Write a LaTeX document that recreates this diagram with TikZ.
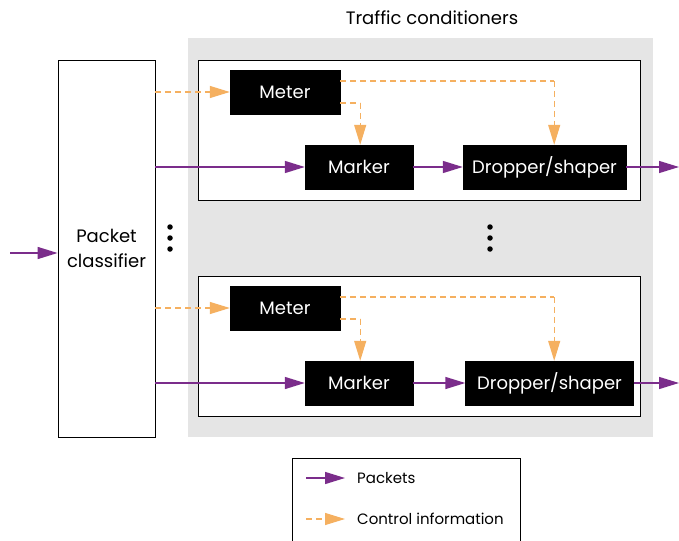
\documentclass[tikz,border=0pt]{standalone}
\usepackage{fontspec}
\setmainfont{Poppins}
\usetikzlibrary{arrows.meta}
\definecolor{pkt}{HTML}{7B2D8B}
\definecolor{ctl}{HTML}{F5B060}
\definecolor{bg}{HTML}{E5E5E5}
\tikzset{
  blk/.style={fill=black,draw=black,text=white,inner sep=0pt,font=\fontsize{18}{20}\selectfont},
  pktarrow/.style={draw=pkt,line width=1.4pt,-{Triangle[length=20pt,width=12pt]}},
  ctlarrow/.style={draw=ctl,line width=1.2pt,dash pattern=on 6pt off 4pt,-{Triangle[length=20pt,width=12pt]}},
  ctlline/.style={draw=ctl,line width=1.2pt,dash pattern=on 6pt off 4pt},
  lbl/.style={font=\fontsize{18}{20}\selectfont,inner sep=0pt},
  leglbl/.style={font=\fontsize{15}{18}\selectfont,inner sep=0pt},
  dot/.style={circle,fill=black,inner sep=0pt,minimum size=5.5pt}
}
\begin{document}
\begin{tikzpicture}[x=1pt,y=-1pt]
\useasboundingbox (0,0) rectangle (679,540);
% shaded area holding the traffic conditioners
\fill[bg] (188,38) rectangle (653,437);
\node[lbl] (title) at (432,18) {Traffic conditioners};
% classifier
\node[draw,line width=0.8pt,minimum width=97pt,minimum height=377pt,inner sep=0pt,align=center,font=\fontsize{18}{25}\selectfont] (cls) at (106.5,248.5) {Packet\\classifier};
\coordinate (in) at (10,253);
\draw[pktarrow] (in) -- (in -| cls.west);
% two conditioner rows
\foreach \r/\oy in {a/0, b/216}{
  \begin{scope}[yshift=-\oy pt]
    \node[draw,fill=white,line width=0.8pt,minimum width=442pt,minimum height=140pt,inner sep=0pt] (frame\r) at (419,130) {};
    \node[blk,minimum width=110pt,minimum height=44pt] (meter\r) at (285,92) {Meter};
    \node[blk,minimum width=108pt,minimum height=44pt] (marker\r) at (359,167) {Marker};
  \end{scope}
}
\node[blk,minimum width=163pt,minimum height=44pt] (dropa) at (544.5,167) {Dropper/shaper};
\node[blk,minimum width=168pt,minimum height=44pt] (dropb) at (549.5,383) {Dropper/shaper};
\coordinate (outa) at (679,167);
\coordinate (outb) at (679,383);
\foreach \r in {a,b}{
  \draw[pktarrow] (cls.east |- marker\r) -- (marker\r.west);
  \draw[pktarrow] (marker\r.east) -- (drop\r.west);
  \draw[pktarrow] (drop\r.east) -- (out\r);
  \draw[ctlarrow] (cls.east |- meter\r) -- (meter\r.west);
  \coordinate (mu\r) at ([yshift=11pt]meter\r.east);
  \coordinate (ml\r) at ([yshift=-11pt]meter\r.east);
  \draw[ctlline] (mu\r) -- ++(214,0) coordinate (c\r);
  \draw[ctlarrow] (c\r) -- (c\r |- drop\r.north);
  \draw[ctlline] (ml\r) -- ++(20,0) coordinate (d\r);
  \draw[ctlarrow] (d\r) -- (d\r |- marker\r.north);
}
% ellipses between the rows
\foreach \x in {170,490}{
  \node[dot] (e1\x) at (\x,227) {};
  \node[dot] (e2\x) at (\x,238) {};
  \node[dot] (e3\x) at (\x,249) {};
}
% legend
\draw[line width=0.8pt] (292,458) rectangle (520,545);
\coordinate (l1) at (306,478);
\coordinate (l2) at (306,519);
\draw[pktarrow] (l1) -- ++(39,0) coordinate (l1e);
\draw[ctlarrow] (l2) -- ++(39,0) coordinate (l2e);
\node[leglbl,anchor=west] (t1) at (357,478) {Packets};
\node[leglbl,anchor=west] (t2) at (357,519) {Control information};
\end{tikzpicture}
\end{document}
